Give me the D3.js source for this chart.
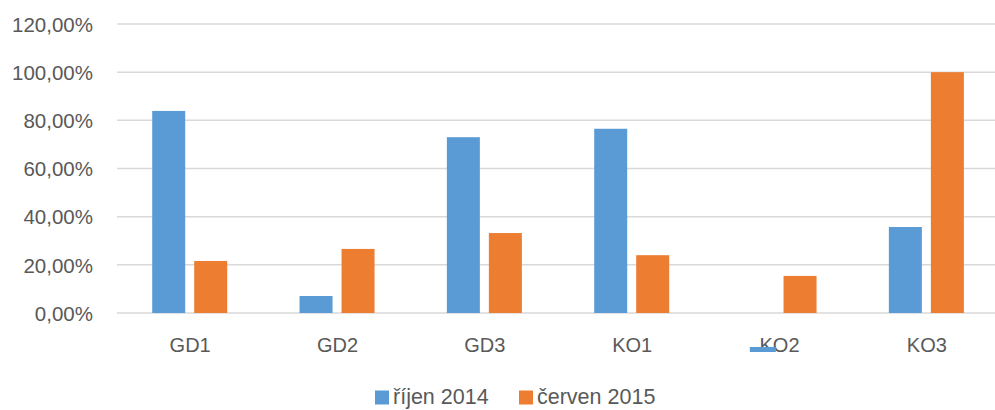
<!DOCTYPE html>
<html><head><meta charset="utf-8">
<script src="https://cdn.jsdelivr.net/npm/d3@7"></script>
<style>body{margin:0;background:#fff}svg{display:block}text{font-family:"Liberation Sans",Arial,sans-serif;fill:#595959}</style>
</head><body>
<script>
const categories = ["GD1","GD2","GD3","KO1","KO2","KO3"];
const seriesNames = ["říjen 2014","červen 2015"];
const rijen2014 = [0.839, 0.0706, 0.730, 0.765, 0, 0.357];
const cerven2015 = [0.216, 0.266, 0.332, 0.240, 0.154, 1.0];
const yTicks = [0, 0.2, 0.4, 0.6, 0.8, 1.0, 1.2];
const colors = ["#5B9BD5", "#ED7D31"];

const W = 995, H = 410;
const svg = d3.select("body").append("svg").attr("width", W).attr("height", H);
const y = d3.scaleLinear().domain([0, 1.2]).range([313, 24]);
const x0 = d3.scaleBand().domain(categories).range([116.5, 1000.5]).paddingInner(0).paddingOuter(0);
const x1 = d3.scaleBand().domain([0,1]).range([35.7, 35.7 + 75]).paddingInner(9/42);

const fmt = v => d3.format(".2f")(v * 100).replace(".", ",") + "%";

// gridlines
svg.append("g").selectAll("line").data(yTicks).join("line")
  .attr("x1", 117).attr("x2", W)
  .attr("y1", d => y(d)).attr("y2", d => y(d))
  .attr("stroke", "#d9d9d9").attr("stroke-width", 1.5);

// y axis labels
const yAxis = d3.axisLeft(y).tickValues(yTicks).tickFormat(fmt).tickSize(0).tickPadding(0);
const ya = svg.append("g").attr("transform", "translate(93,0)").call(yAxis);
ya.select(".domain").remove();
ya.selectAll("text").attr("font-size", 20.5).attr("dy", "0.35em").style("font-family", '"Liberation Sans",Arial,sans-serif').attr("fill", "#595959");

// bars
const series = [rijen2014, cerven2015];
series.forEach((vals, si) => {
  svg.append("g").selectAll("rect").data(vals).join("rect")
    .attr("x", (d, i) => x0(categories[i]) + x1(si))
    .attr("width", x1.bandwidth())
    .attr("y", d => y(d))
    .attr("height", d => y(0) - y(d))
    .attr("fill", colors[si]);
});

// x axis labels
const xAxis = d3.axisBottom(x0).tickSize(0).tickPadding(0);
const xa = svg.append("g").attr("transform", "translate(0,352)").call(xAxis);
xa.select(".domain").remove();
xa.selectAll("text").attr("font-size", 20).attr("dy", 0).style("font-family", '"Liberation Sans",Arial,sans-serif').attr("fill", "#595959");

// small blue mark near KO2 label (as in reference)
svg.append("rect").attr("x", x0("KO2") + 44).attr("y", 347).attr("width", 26).attr("height", 5).attr("fill", colors[0]);

// legend
const leg = [{x: 375, tx: 393}, {x: 519, tx: 537}];
seriesNames.forEach((n, i) => {
  svg.append("rect").attr("x", leg[i].x).attr("y", 390.5).attr("width", 14).attr("height", 14).attr("fill", colors[i]);
  svg.append("text").attr("x", leg[i].tx).attr("y", 404).attr("font-size", 21.5).text(n);
});
</script>
</body></html>
